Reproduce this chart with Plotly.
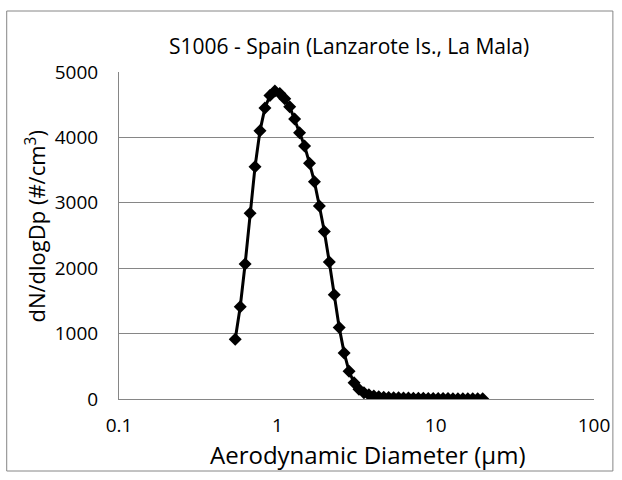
import plotly.graph_objects as go

# APS channel midpoints (aerodynamic diameter, µm)
diameter_um = [0.542, 0.583, 0.626, 0.673, 0.723, 0.777, 0.835, 0.898, 0.965, 1.037,
               1.114, 1.197, 1.286, 1.382, 1.486, 1.596, 1.715, 1.843, 1.981, 2.129,
               2.288, 2.458, 2.642, 2.839, 3.051, 3.278, 3.523, 3.786, 4.068, 4.371,
               4.698, 5.048, 5.425, 5.829, 6.264, 6.732, 7.234, 7.774, 8.354, 8.977,
               9.647, 10.37, 11.14, 11.97, 12.86, 13.82, 14.86, 15.96, 17.15, 18.43,
               19.81]

# Number size distribution dN/dlogDp (#/cm3)
dn_dlogdp = [915, 1410, 2064, 2840, 3550, 4100, 4450, 4640, 4710, 4670,
             4590, 4470, 4280, 4070, 3870, 3606, 3320, 2950, 2562, 2095,
             1595, 1095, 705, 424, 247, 150, 95, 65, 45, 35,
             28, 24, 20, 18, 16, 14, 12, 11, 10, 9,
             8, 7, 6, 6, 5, 4, 4, 3, 3, 2,
             2]

x_tickvals = [0.1, 1, 10, 100]
x_ticktext = ["0.1", "1", "10", "100"]
y_tickvals = [0, 1000, 2000, 3000, 4000, 5000]

chart_title = "S1006 - Spain (Lanzarote Is., La Mala)"
x_title = "Aerodynamic Diameter (µm)"
y_title = "dN/dlogDp (#/cm<sup>3</sup>)"

FONT = "Open Sans"
W, H = 622, 480
L, R, T, B = 119, 25, 72, 81
pw, ph = W - L - R, H - T - B


def px_to_paper_x(px):
    return (px - L) / pw


def px_to_paper_y(py):
    return (H - B - py) / ph


fig = go.Figure()
fig.add_trace(go.Scatter(
    x=diameter_um, y=dn_dlogdp, mode="lines+markers",
    line=dict(color="black", width=3),
    marker=dict(symbol="diamond", size=10, color="black"),
    showlegend=False,
))

fig.update_layout(
    width=W, height=H,
    margin=dict(l=L, r=R, t=T, b=B),
    paper_bgcolor="white", plot_bgcolor="white",
    font=dict(family=FONT, color="black"),
    xaxis=dict(
        type="log", range=[-1, 2],
        tickvals=x_tickvals, ticktext=x_ticktext,
        showgrid=False, zeroline=False,
        showline=True, linecolor="#868686", linewidth=1,
        ticks="", tickfont=dict(size=19, family=FONT),
        ticklabelstandoff=9,
    ),
    yaxis=dict(
        range=[0, 5000], tickvals=y_tickvals,
        showgrid=True, gridcolor="#868686", gridwidth=1,
        zeroline=False,
        showline=True, linecolor="#868686", linewidth=1,
        ticks="", tickfont=dict(size=19, family=FONT),
        ticklabelstandoff=16,
    ),
    annotations=[
        dict(text=chart_title, xref="paper", yref="paper",
             x=px_to_paper_x(350), y=px_to_paper_y(46),
             xanchor="center", yanchor="middle", showarrow=False,
             font=dict(size=21, family=FONT, color="black")),
        dict(text=x_title, xref="paper", yref="paper",
             x=px_to_paper_x(369), y=px_to_paper_y(454),
             xanchor="center", yanchor="middle", showarrow=False,
             font=dict(size=24, family=FONT, color="black")),
        dict(text=y_title, xref="paper", yref="paper",
             x=px_to_paper_x(34), y=px_to_paper_y(227),
             xanchor="center", yanchor="middle", showarrow=False,
             textangle=-90,
             font=dict(size=22, family=FONT, color="black")),
    ],
    shapes=[
        dict(type="rect", xref="paper", yref="paper",
             x0=px_to_paper_x(6), x1=px_to_paper_x(616),
             y0=px_to_paper_y(471), y1=px_to_paper_y(11),
             line=dict(color="#868686", width=1), fillcolor="rgba(0,0,0,0)",
             layer="below"),
    ],
)

fig.write_html("out.html")
